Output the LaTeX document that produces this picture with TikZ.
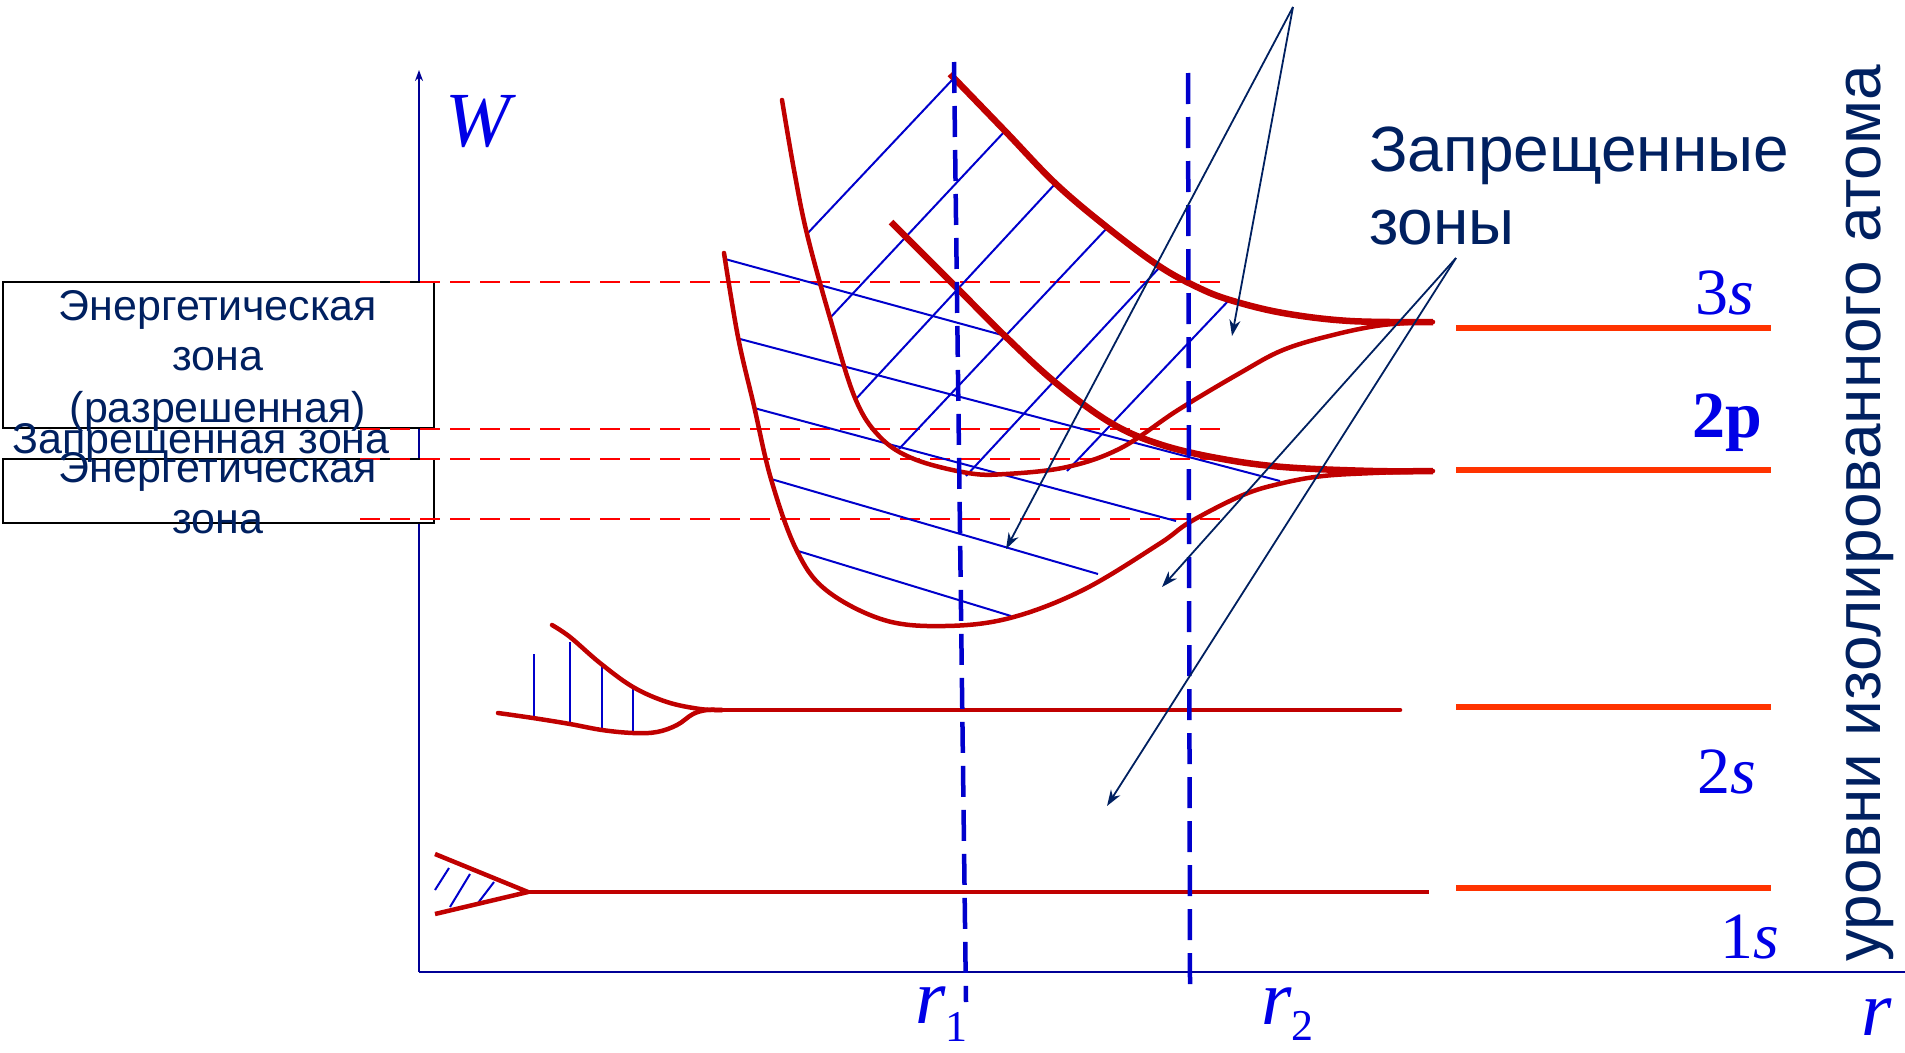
\documentclass[tikz,border=0pt]{standalone}
\usepackage{fontspec}
\setmainfont{Liberation Sans}
\newfontfamily\tms{Liberation Serif}
\usetikzlibrary{arrows.meta}
\definecolor{navy}{RGB}{0,32,96}
\definecolor{dred}{RGB}{192,0,0}
\definecolor{ored}{RGB}{255,51,0}
\definecolor{bblue}{RGB}{0,0,204}
\definecolor{axblue}{RGB}{0,0,150}
\definecolor{lblue}{RGB}{0,0,230}
\begin{document}
\begin{tikzpicture}[x=1pt,y=-1pt,
  band/.style={draw=dred, line width=4.5pt, line cap=round, line join=round},
  bandthick/.style={draw=dred, line width=6.5pt, line join=round},
  hatch/.style={draw=bblue, line width=2pt},
  lvl/.style={draw=ored, line width=6pt},
  rdash/.style={draw=red, line width=2pt, dash pattern=on 20pt off 10pt},
  vdash/.style={draw=bblue, line width=4.5pt, dash pattern=on 31pt off 13pt},
  ptr/.style={draw=navy, line width=1.8pt, -{Stealth[length=16pt,width=11pt,inset=5pt]}},
  axis/.style={draw=axblue, line width=2pt},
  zbox/.style={draw=black, fill=white, line width=2pt, inner sep=0pt, minimum width=431pt},
  ztext/.style={text=navy, anchor=base, inner sep=0pt, font=\fontsize{43}{49}\selectfont},
  ftext/.style={text=navy, anchor=base west, inner sep=0pt, font=\fontsize{64}{76}\selectfont},
  lev/.style={text=lblue, anchor=base, inner sep=0pt, font=\tms\fontsize{66}{70}\selectfont},
  sym/.style={text=lblue, anchor=base, inner sep=0pt, font=\tms\itshape\fontsize{78}{80}\selectfont}
]
\path[use as bounding box] (0,0) rectangle (1905,1052);

% axes
\coordinate (O) at (419,972);
\coordinate (Wtop) at (419,70);
\coordinate (Xend) at (1905,972);
\draw[axis, -{Stealth[length=11pt,width=8pt]}] (O) -- (Wtop);
\draw[axis] (O) -- (Xend);

% boxes
\node[zbox, minimum height=146pt] (box1) at (218.5,355) {};
\node[zbox, minimum height=64pt] (box2) at (218.5,491) {};

% red dashed guide lines
\coordinate (d1a) at (360,282); \coordinate (d1b) at (1220,282);
\coordinate (d2a) at (360,429); \coordinate (d2b) at (1220,429);
\coordinate (d3a) at (360,459); \coordinate (d3b) at (1220,459);
\coordinate (d4a) at (360,519); \coordinate (d4b) at (1220,519);
\draw[rdash] (d1a) -- (d1b);
\draw[rdash] (d2a) -- (d2b);
\draw[rdash] (d3a) -- (d3b);
\draw[rdash] (d4a) -- (d4b);

% hatching 3s band
\draw[hatch] (806,235) -- (953,79);
\draw[hatch] (829,319) -- (1005,131);
\draw[hatch] (855,400) -- (1055,184);
\draw[hatch] (899,449) -- (1108,227);
\draw[hatch] (966,476) -- (1159,268);
\draw[hatch] (1067,471) -- (1231,298);
% hatching 2p band
\draw[hatch] (725,259) -- (1002,335);
\draw[hatch] (740,339) -- (1280,481);
\draw[hatch] (754,408) -- (1176,521);
\draw[hatch] (771,479) -- (1098,574);
\draw[hatch] (798,551) -- (1011,616);
% hatching 2s
\draw[hatch] (534,654) -- (534,717);
\draw[hatch] (570,642) -- (570,724);
\draw[hatch] (602,665) -- (602,729);
\draw[hatch] (633,687) -- (633,731);
% hatching 1s
\draw[hatch] (435,890) -- (449,868);
\draw[hatch] (450,907) -- (470,874);
\draw[hatch] (478,903) -- (494,882);

% bands (dark red curves)
\draw[bandthick] plot[smooth, tension=0.6] coordinates {(950,74) (1006,132) (1056,184) (1108,228) (1159,266) (1197,287) (1230,300) (1283,313) (1350,321) (1433,322)};
\draw[band] plot[smooth, tension=0.6] coordinates {(782,100) (794,170) (807,234) (830,318) (855,398) (880,437) (914,459) (968,473) (1006,474) (1067,467) (1121,448) (1178,410) (1240,373) (1283,350) (1333,335) (1383,325) (1433,322)};
\draw[bandthick] plot[smooth, tension=0.6] coordinates {(891,222) (956,287) (1006,337) (1056,383) (1111,423) (1159,444) (1217,458) (1283,467) (1373,471) (1433,471)};
\draw[band] plot[smooth, tension=0.6] coordinates {(724,253) (738,337) (754,406) (771,479) (796,549) (826,590) (884,620) (945,626) (1010,618) (1083,590) (1159,544) (1190,522) (1243,495) (1283,483) (1323,476) (1373,473) (1433,471)};
% 2s
\draw[band] plot[smooth, tension=0.6] coordinates {(552,625) (570,637) (600,663) (633,687) (667,702) (700,709) (722,710)};
\draw[band] plot[smooth, tension=0.6] coordinates {(498,713) (533,718) (570,724) (602,730) (633,733) (657,732) (677,725) (693,714) (707,710) (722,710)};
\draw[band] (722,710) -- (1400,710);
% 1s
\draw[band, line cap=butt] (435,854) -- (528,892) -- (435,914);
\draw[band, line cap=butt] (528,892) -- (1429,892);

% isolated atom levels
\draw[lvl] (1456,328) -- (1771,328);
\draw[lvl] (1456,470) -- (1771,470);
\draw[lvl] (1456,707) -- (1771,707);
\draw[lvl] (1456,888) -- (1771,888);

% r1, r2 dashed verticals
\coordinate (r1t) at (954,62); \coordinate (r1b) at (966,1002);
\coordinate (r2t) at (1188,73); \coordinate (r2b) at (1190,985);
\draw[vdash] (r1t) -- (r1b);
\draw[vdash] (r2t) -- (r2b);

% pointers
\coordinate (apA) at (1293,7);
\coordinate (tA1) at (1006,549);
\coordinate (tA2) at (1232,336);
\coordinate (apB) at (1456,258);
\coordinate (tB1) at (1162,587);
\coordinate (tB2) at (1107,806);
\draw[ptr] (apA) -- (tA1);
\draw[ptr] (apA) -- (tA2);
\draw[ptr] (apB) -- (tB1);
\draw[ptr] (apB) -- (tB2);

% texts in boxes
\node[ztext] (t1) at (218,320) {Энергетическая};
\node[ztext] (t2) at (218,370) {зона};
\node[ztext] (t3) at (218,422) {(разрешенная)};
\node[ztext] (t4) at (201,453) {Запрещенная зона};
\node[ztext] (t5) at (218,482) {Энергетическая};
\node[ztext] (t6) at (218,533) {зона};

% forbidden zones label
\node[ftext] (fz1) at (1369,171) {Запрещенные};
\node[ftext] (fz2) at (1369,244) {зоны};

% level labels
\node[lev] (l3s) at (1725,314) {3\textit{s}};
\node[lev, font=\tms\bfseries\fontsize{66}{70}\selectfont] (l2p) at (1727,437) {2p};
\node[lev] (l2s) at (1727,793) {2\textit{s}};
\node[lev] (l1s) at (1750,958) {1\textit{s}};

% axis symbols
\node[sym] (W) at (478,146) {W};
\node[sym, anchor=base west] (r1) at (915,1023) {r\raisebox{-18pt}{\upshape\fontsize{44}{44}\selectfont 1}};
\node[sym, anchor=base west] (r2) at (1261,1024) {r\raisebox{-16pt}{\upshape\fontsize{44}{44}\selectfont 2}};
\node[sym] (rx) at (1877,1035) {r};

% vertical label
\node[text=navy, rotate=90, anchor=base, inner sep=0pt, font=\fontsize{64}{70}\selectfont] (iso) at (1880,513) {уровни изолированного атома};
\end{tikzpicture}
\end{document}
